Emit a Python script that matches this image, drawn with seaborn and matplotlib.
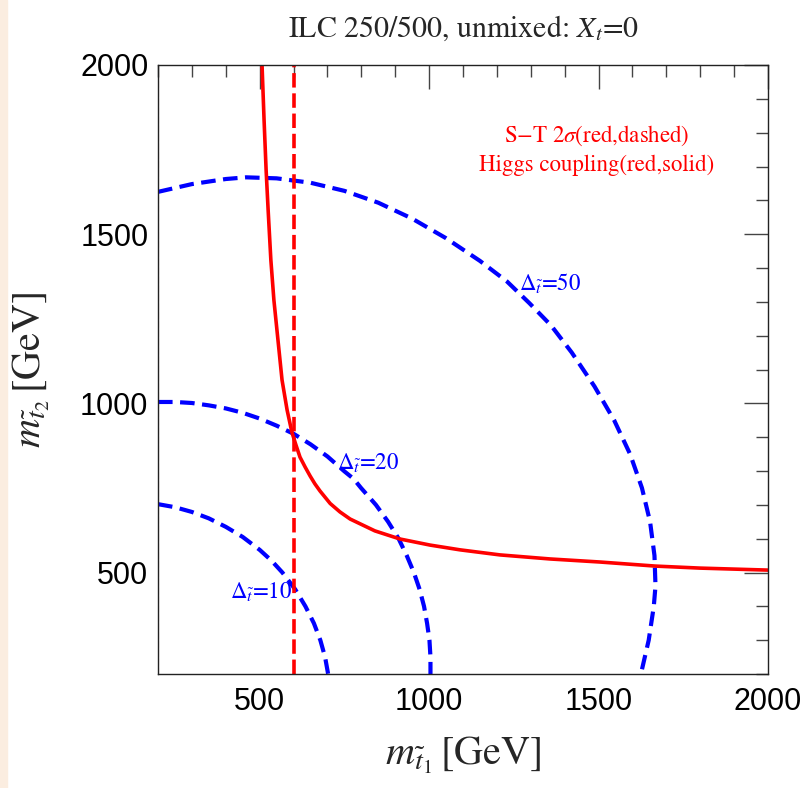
import numpy as np
import pandas as pd
import matplotlib
matplotlib.use("Agg")
import matplotlib.pyplot as plt
from matplotlib.ticker import MultipleLocator
from matplotlib.patches import Rectangle
import seaborn as sns

# ---- data ----
higgs_x = [507, 513, 519, 525, 533, 542, 554, 566, 581, 595, 607, 619, 634, 649, 663, 678, 708,
           737, 767, 840, 914, 1003, 1091, 1209, 1357, 1504, 1667, 1799, 2003]
higgs_y = [2000, 1837, 1690, 1571, 1424, 1305, 1187, 1069, 980, 915, 877, 841, 812, 785, 762, 741, 704,
           679, 658, 623, 599, 581, 567, 552, 540, 531, 519, 513, 507]

st_x = [600, 600]
st_y = [200, 2000]

d10_x = [200, 250, 300, 350, 400, 450, 500, 535, 567, 605, 635, 660, 679, 693, 702]
d10_y = [702, 693, 679, 660, 635, 605, 567, 535, 500, 450, 400, 350, 300, 250, 200]

d20_x = [200, 250, 300, 350, 400, 450, 500, 550, 600, 650, 700, 750, 777,
         799, 843, 879, 910, 934, 955, 972, 985, 994, 1001, 1004, 1004]
d20_y = [1004, 1004, 1001, 994, 985, 972, 955, 934, 910, 879, 843, 799, 777,
         750, 700, 650, 600, 550, 500, 450, 400, 350, 300, 250, 200]

d50_x = [200, 300, 400, 460, 550, 650, 750, 850, 950, 1050, 1150, 1230, 1296,
         1360, 1421, 1488, 1546, 1593, 1628, 1652, 1665, 1668, 1663, 1648, 1625]
d50_y = [1625, 1648, 1663, 1668, 1665, 1652, 1628, 1593, 1546, 1488, 1421, 1360, 1296,
         1230, 1150, 1050, 950, 850, 750, 650, 550, 460, 400, 300, 200]

x_ticks = [500, 1000, 1500, 2000]
y_ticks = [500, 1000, 1500, 2000]

title = r"ILC 250/500, unmixed: $X_t$=$\mathit{0}$"
xlabel = r"$m_{\tilde{t}_1}\,$[GeV]"
ylabel = r"$m_{\tilde{t}_2}\,$[GeV]"
legend_lines = [r"S$-$T 2$\sigma$(red,dashed)", "Higgs coupling(red,solid)"]
delta_labels = [r"$\Delta_{\tilde{t}}$=10", r"$\Delta_{\tilde{t}}$=20", r"$\Delta_{\tilde{t}}$=50"]

# ---- style ----
sns.set_style("white")
plt.rcParams["font.family"] = ["Liberation Sans", "DejaVu Sans"]
plt.rcParams["mathtext.fontset"] = "stix"

fig = plt.figure(figsize=(8.06, 7.88), dpi=100)
fig.patches.append(Rectangle((0, 0), 7 / 806, 1, transform=fig.transFigure,
                             color="#FBEDE0", zorder=0))
ax = fig.add_axes([158 / 806, 1 - 674 / 788, 610 / 806, 609 / 788])

red = "#FF0000"
blue = "#0000FF"

def line(x, y, **kw):
    df = pd.DataFrame({"x": x, "y": y})
    sns.lineplot(data=df, x="x", y="y", sort=False, estimator=None, ax=ax, **kw)

for dx, dy in [(d10_x, d10_y), (d20_x, d20_y), (d50_x, d50_y)]:
    line(dx, dy, color=blue, linewidth=3.0, dashes=(3.5, 1.8))
line(higgs_x, higgs_y, color=red, linewidth=2.6)
line(st_x, st_y, color=red, linewidth=2.6, dashes=(4, 1.6))
# faint artefact line along the left edge
line([201, 201], [200, 2000], color="#E07070", linewidth=0.8, dashes=(6, 2), alpha=0.6)

ax.set_xlim(200, 2000)
ax.set_ylim(200, 2000)
ax.set_xticks(x_ticks)
ax.set_yticks(y_ticks)
ax.xaxis.set_minor_locator(MultipleLocator(100))
ax.yaxis.set_minor_locator(MultipleLocator(100))
ax.tick_params(which="both", direction="in", top=True, right=True, colors="#444444",
               labelcolor="black", labelsize=22)
ax.tick_params(which="major", length=17, width=1.0, pad=7)
ax.tick_params(axis="x", which="major", pad=9)
ax.tick_params(which="minor", length=8.5, width=1.0)
for s in ax.spines.values():
    s.set_color("#222222")
    s.set_linewidth(1.0)

ax.set_xlabel(xlabel, fontsize=29, family="STIXGeneral", labelpad=13)
ax.set_ylabel(ylabel, fontsize=29, family="STIXGeneral", labelpad=20)
ax.set_title(title, fontsize=21.5, family="STIXGeneral", pad=20)

ax.text(1495, 1791, legend_lines[0], color=red, fontsize=16.5, family="STIXGeneral",
        ha="center", va="center")
ax.text(1495, 1703, legend_lines[1], color=red, fontsize=16.5, family="STIXGeneral",
        ha="center", va="center")

ax.text(412, 443, delta_labels[0], color=blue, fontsize=16.5, family="STIXGeneral", ha="left", va="center")
ax.text(728, 824, delta_labels[1], color=blue, fontsize=16.5, family="STIXGeneral", ha="left", va="center")
ax.text(1265, 1356, delta_labels[2], color=blue, fontsize=16.5, family="STIXGeneral", ha="left", va="center")

fig.savefig("out.png", dpi=100)
